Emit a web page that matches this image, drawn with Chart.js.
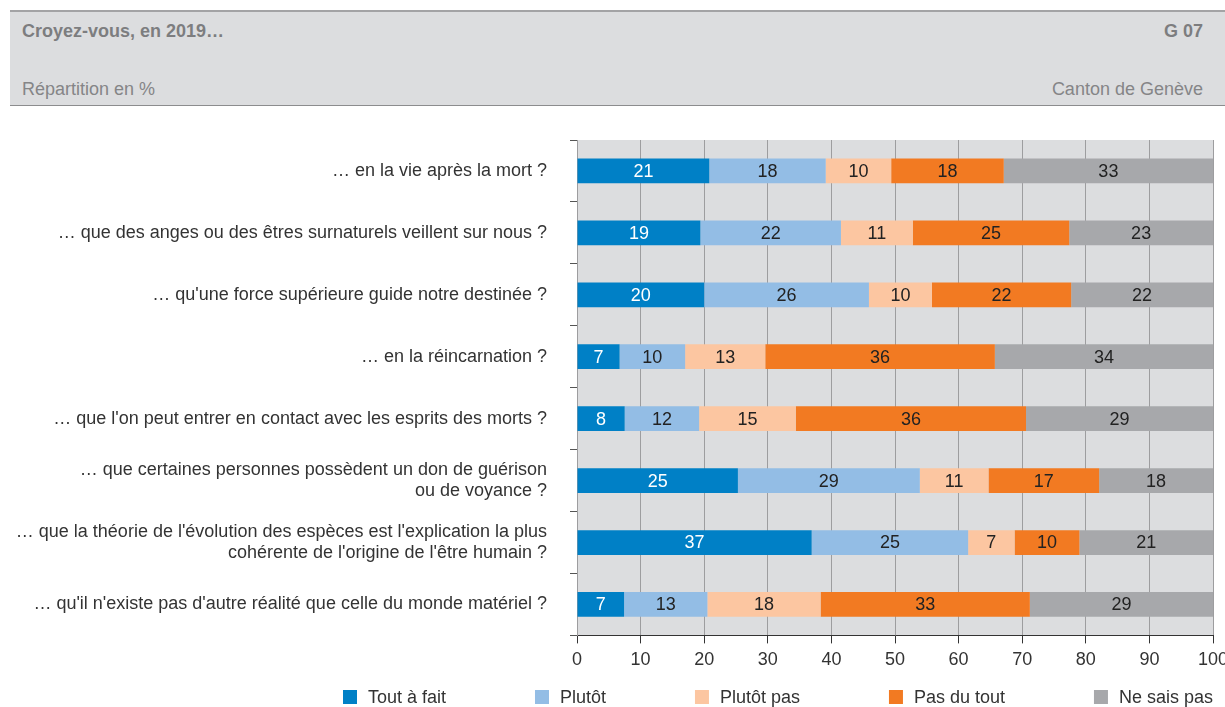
<!DOCTYPE html>
<html lang="fr">
<head>
<meta charset="utf-8">
<title>Croyez-vous, en 2019…</title>
<script src="https://cdn.jsdelivr.net/npm/chart.js@4"></script>
<style>
  html, body { margin: 0; padding: 0; background: #fff; overflow: hidden; }
  body { width: 1225px; height: 707px; position: relative; font-family: "Liberation Sans", Arial, sans-serif; }
  #header {
    position: absolute; left: 10px; top: 10px; width: 1215px; height: 96px;
    background: #dcdddf; border-top: 2px solid #a3a3a5; border-bottom: 1px solid #8c8c8e;
    box-sizing: border-box;
  }
  #header .t { position: absolute; top: 9px; font-size: 18px; font-weight: bold; color: #7d7d7f; }
  #header .s { position: absolute; top: 67px; font-size: 18px; color: #858587; }
  #header .l { left: 12px; }
  #header .r { right: 22px; }
  #wrap { position: absolute; left: 0; top: 0; width: 1225px; height: 707px; }
</style>
</head>
<body>
<div id="header">
  <div class="t l">Croyez-vous, en 2019…</div>
  <div class="t r">G 07</div>
  <div class="s l">Répartition en %</div>
  <div class="s r">Canton de Genève</div>
</div>
<div id="wrap"><canvas id="chart" width="1225" height="707"></canvas></div>
<script>
// questions (y categories)
var categories = [
  "… en la vie après la mort ?",
  "… que des anges ou des êtres surnaturels veillent sur nous ?",
  "… qu'une force supérieure guide notre destinée ?",
  "… en la réincarnation ?",
  "… que l'on peut entrer en contact avec les esprits des morts ?",
  ["… que certaines personnes possèdent un don de guérison", "ou de voyance ?"],
  ["… que la théorie de l'évolution des espèces est l'explication la plus", "cohérente de l'origine de l'être humain ?"],
  "… qu'il n'existe pas d'autre réalité que celle du monde matériel ?"
];

var seriesNames = ["Tout à fait", "Plutôt", "Plutôt pas", "Pas du tout", "Ne sais pas"];

// values in %
var toutAFait  = [20.8, 19.4, 20.0,  6.7,  7.5, 25.3, 36.9,  7.4];
var plutot     = [18.3, 22.1, 25.9, 10.3, 11.7, 28.6, 24.6, 13.1];
var plutotPas  = [10.3, 11.3,  9.9, 12.6, 15.2, 10.8,  7.3, 17.8];
var pasDuTout  = [17.7, 24.6, 21.9, 36.1, 36.2, 17.4, 10.2, 32.9];
var neSaisPas  = [32.9, 22.6, 22.3, 34.3, 29.4, 17.9, 21.0, 28.8];

var xTicks = [0, 10, 20, 30, 40, 50, 60, 70, 80, 90, 100];

var colors = ["#0080c6", "#93bde5", "#fcc6a1", "#f27a22", "#a7a8ab"];
var labelColors = ["#ffffff", "#222222", "#222222", "#222222", "#222222"];
var fontFamily = '"Liberation Sans", Arial, sans-serif';

var allSeries = [toutAFait, plutot, plutotPas, pasDuTout, neSaisPas];
var datasets = allSeries.map(function (values, i) {
  return {
    label: seriesNames[i],
    data: values,
    backgroundColor: colors[i],
    borderWidth: 0,
    barPercentage: 0.8,
    categoryPercentage: 0.5
  };
});

// grey plot background
var plotBackground = {
  id: "plotBackground",
  beforeDraw: function (chart) {
    var a = chart.chartArea;
    var ctx = chart.ctx;
    ctx.save();
    ctx.fillStyle = "#dcdddf";
    ctx.fillRect(a.left, a.top, a.right - a.left, a.bottom - a.top);
    ctx.restore();
  }
};

// value labels in the middle of each segment
var barLabels = {
  id: "barLabels",
  afterDatasetsDraw: function (chart) {
    var ctx = chart.ctx;
    ctx.save();
    ctx.font = "18px " + fontFamily;
    ctx.textAlign = "center";
    ctx.textBaseline = "middle";
    chart.data.datasets.forEach(function (ds, i) {
      var meta = chart.getDatasetMeta(i);
      meta.data.forEach(function (bar, j) {
        ctx.fillStyle = labelColors[i];
        ctx.fillText(String(Math.round(ds.data[j])), (bar.x + bar.base) / 2, bar.y + 1);
      });
    });
    ctx.restore();
  }
};

// legend row under the axis, spread between x=343 and the right edge of the plot
var bottomLegend = {
  id: "bottomLegend",
  afterDraw: function (chart) {
    var ctx = chart.ctx;
    var box = 14, gapText = 11;
    var startX = 343, endX = chart.chartArea.right;
    var y = 697;
    ctx.save();
    ctx.font = "18px " + fontFamily;
    var widths = seriesNames.map(function (n) { return box + gapText + ctx.measureText(n).width; });
    var total = widths.reduce(function (a, b) { return a + b; }, 0);
    var gap = (endX - startX - total) / (seriesNames.length - 1);
    var x = startX;
    ctx.textBaseline = "middle";
    ctx.textAlign = "left";
    seriesNames.forEach(function (n, i) {
      ctx.fillStyle = colors[i];
      ctx.fillRect(x, y - box / 2, box, box);
      ctx.fillStyle = "#333333";
      ctx.fillText(n, x + box + gapText, y + 1);
      x += widths[i] + gap;
    });
    ctx.restore();
  }
};

var ctx = document.getElementById("chart").getContext("2d");
var chart = new Chart(ctx, {
  type: "bar",
  data: {
    labels: categories,
    datasets: datasets
  },
  plugins: [plotBackground, barLabels, bottomLegend],
  options: {
    indexAxis: "y",
    responsive: false,
    animation: false,
    layout: {
      padding: { top: 140, left: 10, right: 12, bottom: 30 }
    },
    plugins: {
      legend: { display: false },
      tooltip: { enabled: false }
    },
    scales: {
      x: {
        stacked: true,
        min: 0,
        max: 100,
        afterBuildTicks: function (scale) {
          scale.ticks = xTicks.map(function (v) { return { value: v }; });
        },
        afterFit: function (scale) {
          scale.paddingRight = 0;
          scale.paddingLeft = 0;
        },
        grid: {
          color: "#9d9d9f",
          lineWidth: 1,
          tickColor: "#333333",
          tickLength: 8
        },
        border: { color: "#333333", width: 1 },
        ticks: {
          color: "#333333",
          padding: 6,
          font: { family: fontFamily, size: 18 }
        }
      },
      y: {
        stacked: true,
        afterFit: function (scale) {
          scale.width = 567;
        },
        grid: {
          drawOnChartArea: false,
          offset: true,
          tickColor: "#555555",
          tickLength: 7
        },
        border: { color: "#9d9d9f", width: 1 },
        ticks: {
          color: "#333333",
          padding: 23,
          font: { family: fontFamily, size: 18, lineHeight: 1.18 }
        }
      }
    }
  }
});
</script>
</body>
</html>
